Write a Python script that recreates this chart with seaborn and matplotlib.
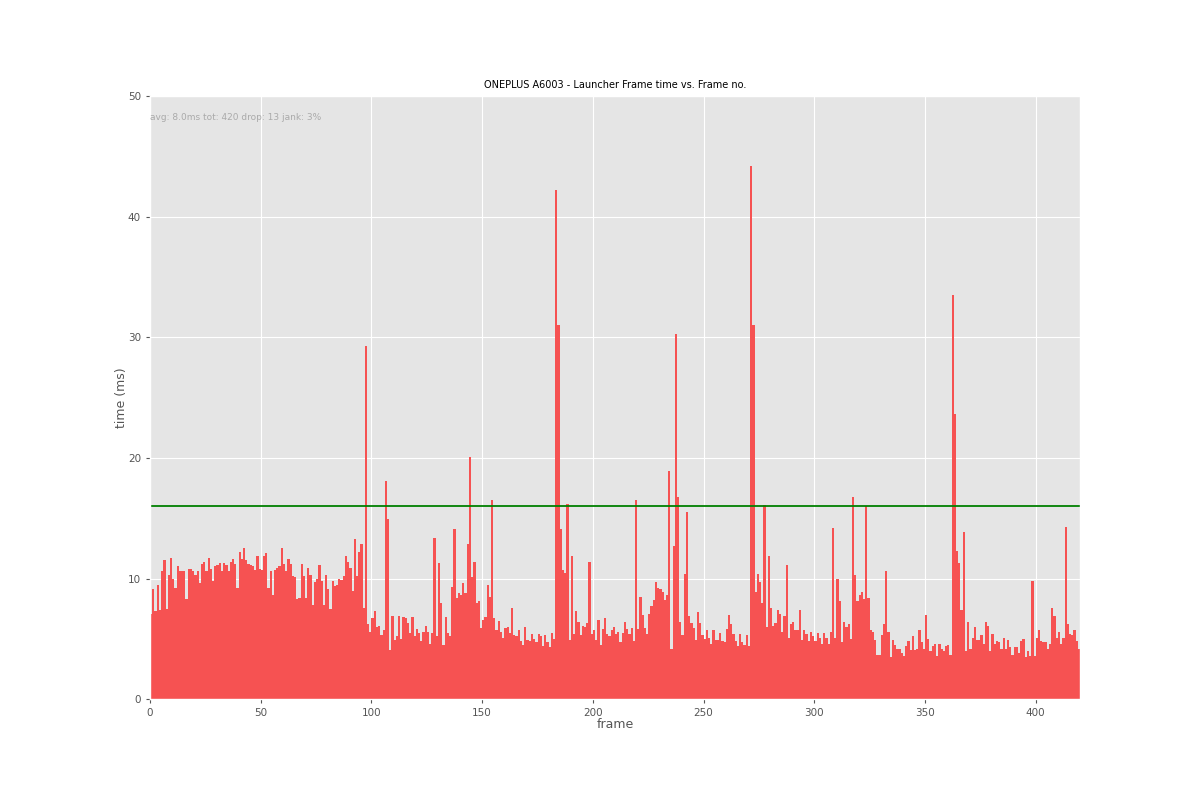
import numpy as np
import pandas as pd
import matplotlib
matplotlib.use("Agg")
import matplotlib.pyplot as plt
import seaborn as sns

title = "ONEPLUS A6003 - Launcher Frame time vs. Frame no."
info_text = "avg: 8.0ms tot: 420 drop: 13 jank: 3%"
threshold_ms = 16

frame_times = [
    # 0-69
    7.1, 9.1, 7.3, 9.5, 7.4, 10.6, 11.5, 7.5, 10.3, 11.7,
    10.0, 9.2, 11.0, 10.6, 10.6, 10.6, 8.3, 10.8, 10.8, 10.6,
    10.3, 10.6, 9.6, 11.2, 11.4, 10.6, 11.7, 10.8, 9.8, 11.0,
    11.1, 11.3, 10.6, 11.3, 11.1, 10.6, 11.4, 11.6, 11.2, 9.2,
    12.2, 11.6, 12.5, 11.5, 11.2, 11.1, 11.0, 10.7, 11.9, 10.8,
    10.7, 11.9, 12.1, 9.2, 10.6, 8.6, 10.7, 10.9, 11.0, 12.5,
    11.2, 10.6, 11.6, 11.2, 10.2, 10.1, 8.3, 8.4, 11.2, 10.2,
    # 70-139
    8.4, 10.9, 10.3, 7.8, 9.7, 10.0, 11.1, 9.8, 7.8, 10.3,
    9.1, 7.5, 9.8, 9.4, 9.5, 10.0, 9.9, 10.2, 11.9, 11.4,
    10.9, 9.0, 13.3, 10.2, 12.2, 12.9, 7.6, 29.3, 6.2, 5.6,
    6.7, 7.3, 6.0, 6.1, 5.3, 5.7, 18.1, 14.9, 4.1, 6.9,
    4.9, 5.2, 6.9, 5.0, 6.8, 6.7, 6.3, 5.5, 6.8, 5.2,
    5.8, 5.5, 4.8, 5.6, 6.1, 5.6, 4.6, 5.5, 13.4, 5.2,
    11.3, 8.0, 4.5, 6.8, 5.5, 5.2, 9.3, 14.1, 8.4, 8.8,
    # 140-209
    8.6, 9.6, 8.8, 12.9, 20.1, 10.1, 11.4, 8.0, 8.1, 5.9,
    6.6, 6.8, 9.5, 8.5, 16.5, 6.7, 5.7, 6.5, 5.6, 5.1,
    5.9, 6.0, 5.5, 7.6, 5.3, 5.2, 5.7, 4.8, 4.5, 6.0,
    4.9, 4.8, 5.4, 5.0, 4.7, 5.4, 5.2, 4.4, 5.3, 4.7,
    4.3, 5.5, 5.0, 42.2, 31.0, 14.1, 10.7, 10.5, 16.2, 4.9,
    11.9, 5.4, 7.3, 6.4, 5.3, 6.1, 6.0, 6.3, 11.4, 5.4,
    5.7, 4.9, 6.6, 4.5, 5.8, 6.7, 5.4, 5.2, 5.7, 6.0,
    # 210-279
    5.4, 5.6, 4.7, 5.5, 6.4, 5.8, 5.4, 5.9, 4.8, 16.5,
    5.8, 8.5, 7.0, 5.9, 5.4, 7.1, 7.7, 8.2, 9.7, 9.2,
    9.1, 8.9, 8.2, 8.6, 18.9, 4.2, 12.7, 30.3, 16.8, 6.4,
    5.3, 10.4, 15.5, 6.9, 6.3, 5.9, 4.9, 7.2, 6.3, 5.3,
    5.0, 5.7, 5.1, 4.6, 5.7, 4.9, 4.9, 5.5, 4.8, 4.7,
    5.8, 7.0, 6.2, 5.4, 4.8, 4.4, 5.4, 4.7, 4.5, 5.3,
    4.4, 44.2, 31.0, 8.9, 10.4, 9.7, 8.0, 16.1, 6.0, 11.9,
    # 280-349
    7.6, 6.1, 6.3, 7.4, 7.1, 5.6, 6.9, 11.1, 5.1, 6.2,
    6.4, 5.7, 5.7, 7.4, 4.9, 5.7, 5.4, 4.8, 5.6, 5.2,
    4.8, 5.5, 5.1, 4.6, 5.5, 5.1, 4.6, 5.6, 14.2, 5.1,
    10.0, 8.1, 4.7, 6.4, 6.0, 6.2, 5.0, 16.8, 10.3, 8.1,
    8.6, 8.9, 8.3, 16.0, 8.4, 5.7, 5.6, 4.9, 3.7, 3.7,
    5.3, 6.2, 10.6, 5.6, 3.5, 4.9, 4.5, 4.2, 4.2, 3.8,
    3.6, 4.4, 4.8, 4.1, 5.2, 4.1, 4.2, 5.7, 4.7, 4.2,
    # 350-419
    7.0, 5.0, 4.0, 4.4, 4.6, 3.6, 4.6, 4.2, 4.0, 4.4,
    4.5, 3.7, 33.5, 23.6, 12.3, 11.3, 7.4, 13.9, 4.0, 6.4,
    4.2, 5.1, 6.0, 4.9, 4.9, 5.3, 4.6, 6.4, 6.1, 4.0,
    5.4, 4.6, 4.8, 4.7, 4.2, 5.1, 4.2, 4.9, 4.3, 3.7,
    4.3, 4.3, 3.8, 4.8, 5.0, 3.5, 4.0, 3.6, 9.8, 3.6,
    5.1, 5.7, 4.8, 4.7, 4.7, 4.2, 4.6, 7.6, 6.9, 5.1,
    5.6, 4.6, 5.1, 14.3, 6.2, 5.4, 5.3, 5.7, 4.8, 4.2,
]

n_frames = len(frame_times)
frames = [f + 0.5 for f in range(n_frames)]
df = pd.DataFrame({"frame": frames, "time": frame_times})

plt.style.use("ggplot")
fig, ax = plt.subplots(figsize=(12, 8), dpi=100)
fig.subplots_adjust(left=0.125, right=0.9, top=0.88, bottom=0.126)

sns.histplot(data=df, x="frame", weights="time", bins=n_frames, binrange=(0, n_frames),
             color="#F65252", alpha=1.0, linewidth=0, ax=ax)

ax.axhline(threshold_ms, color="green", linewidth=1.3)

ax.set_xlim(0, n_frames)
ax.set_ylim(0, 50)
ax.set_xticks(np.arange(0, 401, 50))
ax.set_yticks(np.arange(0, 51, 10))
ax.set_xlabel("frame", fontsize=9, color="#555555", labelpad=0)
ax.set_ylabel("time (ms)", fontsize=9, color="#555555", labelpad=0)
ax.set_title(title, fontsize=7, color="black")
ax.tick_params(labelsize=7.5, colors="#555555", length=3)
ax.text(0.0, 0.965, info_text, transform=ax.transAxes, fontsize=6.5,
        color="#AAAAAA", ha="left", va="center")

fig.savefig("out.png", dpi=100)
